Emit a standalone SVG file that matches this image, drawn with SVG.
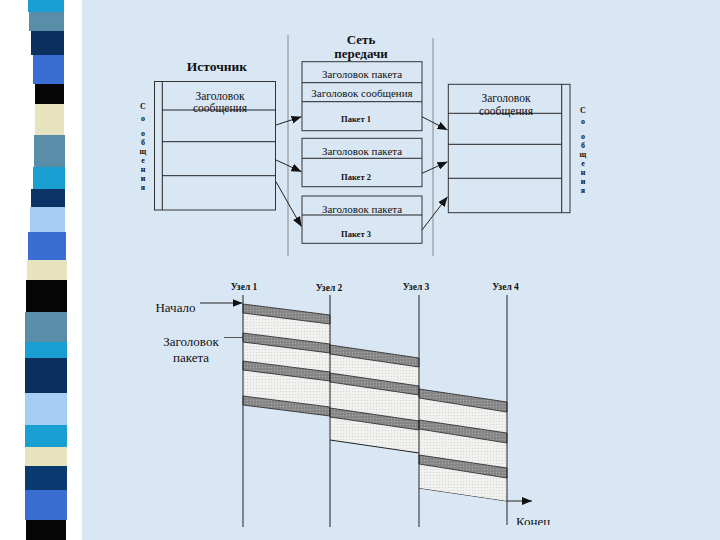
<svg xmlns="http://www.w3.org/2000/svg" width="720" height="540" viewBox="0 0 720 540">
<defs>
<style>
.t{font-family:"Liberation Serif","Times New Roman",serif;fill:#111}
.c{text-anchor:middle}
.b{font-weight:bold}
.box{fill:none;stroke:#333;stroke-width:1}
.ln{stroke:#222;stroke-width:1;fill:none}
.sep{stroke:#888;stroke-width:1}
.node{stroke:#222;stroke-width:1}
.dk{fill:url(#pd);stroke:#222;stroke-width:0.8}
.lt{fill:url(#pl);stroke:none}
</style>
<pattern id="pd" width="3" height="3" patternUnits="userSpaceOnUse">
<rect width="3" height="3" fill="#858585"/>
<circle cx="1.5" cy="1.5" r="0.7" fill="#aaaaaa"/>
</pattern>
<pattern id="pl" width="3" height="3" patternUnits="userSpaceOnUse">
<rect width="3" height="3" fill="#f1f1ef"/>
<circle cx="1.5" cy="1.5" r="0.6" fill="#cfcfcf"/>
</pattern>
<marker id="ah" viewBox="0 0 10 8" refX="10" refY="4" markerWidth="10" markerHeight="8" markerUnits="userSpaceOnUse" orient="auto">
<path d="M0,0 L10,4 L0,8 z" fill="#111"/>
</marker>
<clipPath id="bottomclip"><rect x="0" y="0" width="720" height="525"/></clipPath>
</defs>

<g id="background">
<rect x="0" y="0" width="720" height="540" fill="#ffffff"/>
<rect x="82" y="0" width="638" height="540" fill="#d9e7f5"/>
</g>

<g id="stripes">
<rect x="28" y="0" width="36" height="12" fill="#1a9fd2"/>
<rect x="29" y="12" width="35" height="19" fill="#5a8ea8"/>
<rect x="31" y="31" width="33" height="24" fill="#0b2f5e"/>
<rect x="33" y="55" width="31" height="29" fill="#3a6ed2"/>
<rect x="35" y="84" width="29" height="20" fill="#050505"/>
<rect x="35" y="104" width="29" height="31" fill="#e7e3bf"/>
<rect x="34" y="135" width="31" height="32" fill="#5a8ea8"/>
<rect x="33" y="167" width="32" height="22" fill="#1a9fd2"/>
<rect x="31" y="189" width="34" height="18" fill="#0b3366"/>
<rect x="30" y="207" width="35" height="25" fill="#a6cdf3"/>
<rect x="28" y="232" width="38" height="28" fill="#3a6ed2"/>
<rect x="27" y="260" width="40" height="20" fill="#e7e3bf"/>
<rect x="26" y="280" width="41" height="32" fill="#050505"/>
<rect x="25" y="312" width="42" height="30" fill="#5a8ea8"/>
<rect x="25" y="342" width="42" height="16" fill="#1a9fd2"/>
<rect x="25" y="358" width="42" height="35" fill="#0b2f5e"/>
<rect x="25" y="393" width="42" height="32" fill="#a6cdf3"/>
<rect x="25" y="425" width="42" height="22" fill="#1a9fd2"/>
<rect x="25" y="447" width="42" height="19" fill="#e7e3bf"/>
<rect x="25" y="466" width="42" height="24" fill="#0b3a70"/>
<rect x="25" y="490" width="42" height="30" fill="#3a6ed2"/>
<rect x="26" y="520" width="40" height="20" fill="#050505"/>
</g>

<g id="separators">
<line class="sep" x1="288" y1="35" x2="288" y2="256"/>
<line class="sep" x1="433" y1="38" x2="433" y2="256"/>
</g>

<g id="source">
<text class="t b c" x="217" y="71" font-size="13.5">Источник</text>
<rect class="box" x="154.5" y="81.5" width="121" height="128.5"/>
<line class="ln" x1="162.3" y1="81.5" x2="162.3" y2="210"/>
<line class="ln" x1="162.3" y1="110" x2="275.5" y2="110"/>
<line class="ln" x1="162.3" y1="141.7" x2="275.5" y2="141.7"/>
<line class="ln" x1="162.3" y1="175.7" x2="275.5" y2="175.7"/>
<text class="t c" x="220" y="99.5" font-size="11.5">Заголовок</text>
<text class="t c" x="220" y="111.5" font-size="11.5">сообщения</text>
<text class="t b c" font-size="8"><tspan x="143" y="109">С</tspan><tspan x="143" y="121">о</tspan><tspan x="143" y="136">о</tspan><tspan x="143" y="145">б</tspan><tspan x="143" y="154">щ</tspan><tspan x="143" y="163">е</tspan><tspan x="143" y="172">н</tspan><tspan x="143" y="181">и</tspan><tspan x="143" y="190">я</tspan></text>
</g>

<g id="network-title">
<text class="t b c" x="361" y="43.5" font-size="13">Сеть</text>
<text class="t b c" x="361" y="57.5" font-size="13">передачи</text>
</g>

<g id="packet1">
<rect class="box" x="302" y="61.7" width="120" height="69"/>
<line class="ln" x1="302" y1="82.7" x2="422" y2="82.7"/>
<line class="ln" x1="302" y1="101.7" x2="422" y2="101.7"/>
<text class="t c" x="362" y="77.5" font-size="11">Заголовок пакета</text>
<text class="t c" x="362" y="96.5" font-size="11">Заголовок сообщения</text>
<text class="t b c" x="356" y="122" font-size="8.5">Пакет 1</text>
</g>

<g id="packet2">
<rect class="box" x="302" y="138.3" width="120" height="48.4"/>
<line class="ln" x1="302" y1="158.3" x2="422" y2="158.3"/>
<text class="t c" x="362" y="155" font-size="11">Заголовок пакета</text>
<text class="t b c" x="356" y="179.5" font-size="8.5">Пакет 2</text>
</g>

<g id="packet3">
<rect class="box" x="302" y="196" width="120" height="47.3"/>
<line class="ln" x1="302" y1="215" x2="422" y2="215"/>
<text class="t c" x="362" y="212.5" font-size="11">Заголовок пакета</text>
<text class="t b c" x="356" y="237" font-size="8.5">Пакет 3</text>
</g>

<g id="destination">
<rect class="box" x="448.3" y="84.3" width="121.7" height="128.4"/>
<line class="ln" x1="561.7" y1="84.3" x2="561.7" y2="212.7"/>
<line class="ln" x1="448.3" y1="113.3" x2="561.7" y2="113.3"/>
<line class="ln" x1="448.3" y1="144.3" x2="561.7" y2="144.3"/>
<line class="ln" x1="448.3" y1="178.3" x2="561.7" y2="178.3"/>
<text class="t c" x="506" y="101.5" font-size="11.5">Заголовок</text>
<text class="t c" x="506" y="114.5" font-size="11.5">сообщения</text>
<text class="t b c" font-size="8"><tspan x="583" y="113">С</tspan><tspan x="583" y="124">о</tspan><tspan x="583" y="139">о</tspan><tspan x="583" y="148">б</tspan><tspan x="583" y="157">щ</tspan><tspan x="583" y="166">е</tspan><tspan x="583" y="175">н</tspan><tspan x="583" y="184">и</tspan><tspan x="583" y="193">я</tspan></text>
</g>

<g id="connectors">
<line class="ln" x1="276" y1="125" x2="301.5" y2="116.7" marker-end="url(#ah)"/>
<line class="ln" x1="276" y1="160" x2="301.5" y2="171.7" marker-end="url(#ah)"/>
<line class="ln" x1="276" y1="181.7" x2="301.5" y2="226.7" marker-end="url(#ah)"/>
<line class="ln" x1="422" y1="116.7" x2="447.5" y2="130" marker-end="url(#ah)"/>
<line class="ln" x1="422" y1="173.3" x2="447.5" y2="161.7" marker-end="url(#ah)"/>
<line class="ln" x1="422" y1="230" x2="447.5" y2="196.7" marker-end="url(#ah)"/>
<line class="ln" x1="200" y1="303" x2="242.5" y2="303" marker-end="url(#ah)"/>
<line x1="224" y1="337.5" x2="242.5" y2="337.5" stroke="#555" stroke-width="1"/>
<polyline class="ln" points="419,488 507,501 532,501" marker-end="url(#ah)"/>
</g>

<g id="segment1">
<polygon class="lt" points="243,313 330,324 330,344 243,333"/>
<polygon class="lt" points="243,342 330,353 330,372 243,361"/>
<polygon class="lt" points="243,370 330,381 330,407 243,396"/>
<polygon class="dk" points="243,304 330,315 330,324 243,313"/>
<polygon class="dk" points="243,333 330,344 330,353 243,342"/>
<polygon class="dk" points="243,361 330,372 330,381 243,370"/>
<polygon class="dk" points="243,396 330,407 330,416 243,405"/>
</g>

<g id="segment2">
<polygon class="lt" points="330,354 419,367 419,386 330,373"/>
<polygon class="lt" points="330,382 419,395 419,421 330,408"/>
<polygon class="lt" points="330,417 419,430 419,453 330,440"/>
<polygon class="dk" points="330,345 419,358 419,367 330,354"/>
<polygon class="dk" points="330,373 419,386 419,395 330,382"/>
<polygon class="dk" points="330,408 419,421 419,430 330,417"/>
<line class="ln" x1="330" y1="440" x2="419" y2="453"/>
</g>

<g id="segment3">
<polygon class="lt" points="419,398 507,411 507,433 419,420"/>
<polygon class="lt" points="419,429 507,442 507,468 419,455"/>
<polygon class="lt" points="419,464 507,477 507,501 419,488"/>
<polygon class="dk" points="419,389 507,402 507,412 419,398"/>
<polygon class="dk" points="419,420 507,433 507,443 419,429"/>
<polygon class="dk" points="419,455 507,468 507,478 419,464"/>
</g>

<g id="node1">
<line class="node" x1="243" y1="295" x2="243" y2="527"/>
<text class="t b c" x="244" y="290" font-size="9.5">Узел 1</text>
</g>
<g id="node2">
<line class="node" x1="330" y1="295" x2="330" y2="527"/>
<text class="t b c" x="329" y="291" font-size="9.5">Узел 2</text>
</g>
<g id="node3">
<line class="node" x1="419" y1="295" x2="419" y2="527"/>
<text class="t b c" x="416" y="290" font-size="9.5">Узел 3</text>
</g>
<g id="node4">
<line class="node" x1="507" y1="295" x2="507" y2="525"/>
<text class="t b c" x="505.5" y="290" font-size="9.5">Узел 4</text>
</g>

<g id="labels">
<text class="t c" x="175.5" y="312" font-size="13">Начало</text>
<text class="t c" x="191" y="346" font-size="13">Заголовок</text>
<text class="t c" x="191" y="362" font-size="13">пакета</text>
<text class="t" x="516" y="526" font-size="13" clip-path="url(#bottomclip)">Конец</text>
</g>
</svg>
